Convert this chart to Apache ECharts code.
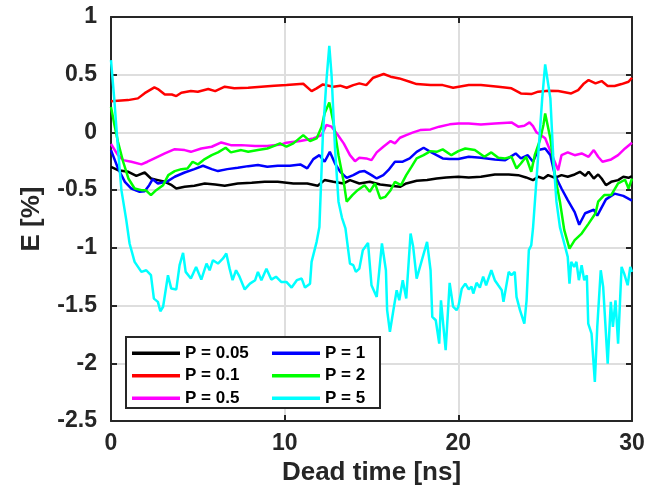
<!DOCTYPE html>
<html>
<head>
<meta charset="utf-8">
<script src="https://cdn.jsdelivr.net/npm/echarts@6/dist/echarts.min.js"></script>
<style>html,body{margin:0;padding:0;background:#fff}#c{width:653px;height:490px}</style>
</head>
<body>
<div id="c"></div>
<script>
var seriesNames = ['P = 0.05', 'P = 0.1', 'P = 0.5', 'P = 1', 'P = 2', 'P = 5'];
var seriesColors = ['#000000', '#ff0000', '#ff00ff', '#0000ff', '#00ff00', '#00ffff'];
var xTicks = [0, 10, 20, 30];
var yTicks = [-2.5, -2, -1.5, -1, -0.5, 0, 0.5, 1];

var tP005 = [0,0.4,1.0,1.46,1.94,2.3,2.7,3.1,3.5,3.76,4.24,4.8,5.4,6.0,6.55,7.3,8.1,8.85,9.6,10.5,11.3,11.9,12.3,12.8,13.4,13.76,14.3,14.9,15.5,16.1,16.64,17.0,17.6,18.2,18.75,19.3,20.0,20.6,21.3,22.1,22.9,23.45,23.9,24.3,24.6,24.9,25.17,25.56,25.94,26.3,26.7,27.0,27.3,27.5,27.8,28.05,28.25,28.5,28.8,29.2,29.5,29.8,30];
var vP005 = [-0.298,-0.327,-0.341,-0.376,-0.347,-0.399,-0.413,-0.428,-0.457,-0.486,-0.471,-0.462,-0.442,-0.451,-0.462,-0.442,-0.436,-0.428,-0.428,-0.442,-0.442,-0.462,-0.413,-0.428,-0.442,-0.413,-0.442,-0.428,-0.451,-0.462,-0.471,-0.442,-0.419,-0.413,-0.399,-0.390,-0.384,-0.390,-0.384,-0.364,-0.364,-0.370,-0.390,-0.413,-0.384,-0.399,-0.370,-0.393,-0.370,-0.384,-0.364,-0.341,-0.376,-0.341,-0.399,-0.364,-0.399,-0.457,-0.428,-0.413,-0.384,-0.393,-0.379];

var tP01 = [0,0.98,1.55,1.94,2.5,2.7,3.1,3.5,3.76,4.05,4.6,5.0,5.6,6.0,6.55,7.1,7.9,8.65,9.4,10.1,11.07,11.55,11.84,12.2,12.8,13.2,13.57,13.95,14.3,14.7,15.1,15.7,16.1,16.6,17.2,17.6,18.4,19.1,19.7,20.6,21.3,22.3,23.06,23.6,24.2,24.6,25.17,25.75,26.5,26.9,27.2,27.5,27.9,28.25,28.6,29.0,29.4,29.8,30];
var vP01 = [0.27,0.28,0.295,0.34,0.39,0.376,0.329,0.329,0.315,0.344,0.358,0.353,0.376,0.358,0.396,0.382,0.387,0.396,0.405,0.410,0.422,0.358,0.382,0.416,0.396,0.405,0.387,0.410,0.425,0.410,0.474,0.506,0.483,0.468,0.439,0.419,0.410,0.410,0.387,0.410,0.410,0.396,0.382,0.338,0.332,0.353,0.361,0.358,0.338,0.367,0.419,0.454,0.425,0.445,0.402,0.402,0.419,0.439,0.474];

var tP05 = [0,0.4,0.7,1.17,1.75,2.1,2.5,3.1,3.67,4.24,4.6,5.2,5.8,6.35,6.9,7.5,8.3,9.0,9.8,10.1,10.9,11.65,12.13,12.4,12.7,13.0,13.4,13.76,14.05,14.3,14.7,15.0,15.3,15.68,16.1,16.35,16.64,17.0,17.4,17.8,18.4,18.9,19.5,20.0,20.6,21.3,22.1,23.06,23.45,23.8,24.1,24.3,24.5,24.7,25.0,25.4,25.75,25.94,26.3,26.7,27.1,27.5,27.8,28.05,28.3,28.8,29.2,29.6,30];
var vP05 = [-0.10,-0.197,-0.240,-0.254,-0.277,-0.254,-0.225,-0.182,-0.145,-0.153,-0.168,-0.139,-0.124,-0.087,-0.110,-0.110,-0.118,-0.118,-0.104,-0.090,-0.075,-0.052,-0.023,0.064,0.050,-0.009,-0.095,-0.197,-0.249,-0.220,-0.225,-0.240,-0.173,-0.124,-0.075,-0.095,-0.046,-0.023,0.0,0.020,0.026,0.050,0.070,0.078,0.078,0.069,0.078,0.087,0.050,0.058,0.087,0.055,0.0,-0.017,-0.05,-0.2,-0.327,-0.197,-0.173,-0.197,-0.182,-0.211,-0.153,-0.211,-0.254,-0.234,-0.197,-0.139,-0.090];

var tP1 = [0,0.4,0.8,1.17,1.65,1.94,2.2,2.4,2.7,3.2,3.67,4.24,4.8,5.3,5.8,6.16,6.7,7.3,7.9,8.46,9.0,9.6,10.3,10.9,11.3,11.65,12.0,12.3,12.6,12.9,13.2,13.57,13.95,14.3,14.6,15.0,15.3,15.68,15.97,16.35,16.8,17.2,17.6,18.0,18.4,18.75,19.1,19.5,20.0,20.6,21.3,22.1,22.7,23.3,23.6,24.0,24.3,24.6,25.0,25.3,25.56,25.94,26.3,26.7,26.96,27.3,27.8,28.0,28.5,29.0,29.5,30];
var vP1 = [-0.153,-0.310,-0.428,-0.486,-0.514,-0.509,-0.457,-0.405,-0.442,-0.428,-0.384,-0.347,-0.318,-0.289,-0.318,-0.335,-0.318,-0.306,-0.292,-0.283,-0.298,-0.289,-0.289,-0.277,-0.312,-0.231,-0.197,-0.254,-0.168,-0.269,-0.341,-0.393,-0.370,-0.341,-0.335,-0.370,-0.399,-0.370,-0.327,-0.254,-0.254,-0.225,-0.168,-0.133,-0.168,-0.197,-0.225,-0.231,-0.231,-0.211,-0.220,-0.234,-0.240,-0.182,-0.225,-0.197,-0.254,-0.153,-0.139,-0.197,-0.370,-0.486,-0.587,-0.69,-0.80,-0.70,-0.67,-0.72,-0.58,-0.53,-0.55,-0.59];

var tP2 = [0,0.2,0.4,0.7,1.0,1.36,1.75,2.0,2.3,2.6,3.0,3.3,3.67,4.05,4.4,4.7,5.0,5.4,5.8,6.16,6.6,6.9,7.5,7.9,8.46,9.0,9.4,9.73,10.1,10.5,11.07,11.46,11.84,12.13,12.3,12.57,12.8,13.1,13.4,13.57,13.9,14.2,14.6,14.9,15.2,15.5,15.8,16.1,16.35,16.7,17.0,17.3,17.6,18.0,18.4,18.75,19.1,19.6,20.0,20.4,20.95,21.5,21.9,22.3,22.7,23.06,23.35,23.6,23.9,24.2,24.4,24.7,24.9,25.0,25.3,25.56,25.85,26.1,26.4,26.7,27.1,27.5,27.9,28.05,28.4,28.8,29.2,29.6,29.8,30];
var vP2 = [0.22,0.064,-0.081,-0.254,-0.399,-0.486,-0.500,-0.500,-0.543,-0.500,-0.457,-0.370,-0.335,-0.318,-0.312,-0.254,-0.277,-0.231,-0.197,-0.173,-0.133,-0.173,-0.153,-0.168,-0.153,-0.139,-0.116,-0.095,-0.124,-0.095,-0.023,-0.075,-0.052,0.050,0.165,0.260,0.092,-0.197,-0.428,-0.600,-0.543,-0.500,-0.457,-0.514,-0.442,-0.572,-0.558,-0.500,-0.428,-0.457,-0.370,-0.298,-0.225,-0.197,-0.162,-0.168,-0.147,-0.197,-0.162,-0.139,-0.153,-0.211,-0.173,-0.220,-0.225,-0.211,-0.312,-0.269,-0.211,-0.341,-0.197,-0.066,0.064,0.165,-0.052,-0.370,-0.600,-0.847,-1.006,-0.933,-0.876,-0.790,-0.700,-0.600,-0.543,-0.543,-0.442,-0.410,-0.486,-0.400];

var tP5 = [0,0.2,0.4,0.6,0.88,1.07,1.36,1.75,2.03,2.3,2.47,2.7,2.84,3.0,3.28,3.47,3.76,3.95,4.15,4.3,4.6,4.9,5.2,5.5,5.68,5.87,6.16,6.45,6.64,6.83,7.0,7.2,7.4,7.7,8.0,8.3,8.46,8.66,8.95,9.23,9.5,9.8,10.1,10.4,10.7,10.98,11.17,11.46,11.55,11.84,12.0,12.2,12.4,12.57,12.7,12.9,13.1,13.3,13.5,13.66,13.76,13.95,14.1,14.3,14.5,14.8,15.0,15.3,15.6,15.83,15.9,16.06,16.26,16.45,16.6,16.8,17.0,17.25,17.4,17.6,17.9,18.2,18.4,18.5,18.7,18.9,19.0,19.27,19.5,19.7,19.9,20.0,20.2,20.4,20.6,20.76,20.86,21.05,21.24,21.43,21.6,21.9,22.1,22.3,22.5,22.6,22.9,23.06,23.25,23.35,23.55,23.8,23.93,24.06,24.2,24.3,24.6,24.83,25.0,25.1,25.3,25.46,25.65,25.85,26.1,26.3,26.4,26.5,26.67,26.8,26.94,27.1,27.25,27.4,27.48,27.67,27.86,28.0,28.2,28.34,28.6,28.78,28.9,29.05,29.2,29.4,29.55,29.75,29.9,30];
var vP5 = [0.627,0.266,-0.139,-0.50,-0.76,-0.962,-1.121,-1.208,-1.194,-1.237,-1.44,-1.468,-1.549,-1.51,-1.237,-1.353,-1.36,-1.15,-1.043,-1.208,-1.266,-1.165,-1.275,-1.136,-1.194,-1.107,-1.136,-1.092,-1.049,-1.18,-1.28,-1.194,-1.25,-1.36,-1.31,-1.28,-1.208,-1.28,-1.18,-1.275,-1.25,-1.295,-1.295,-1.344,-1.28,-1.266,-1.344,-1.31,-1.121,-0.948,-0.82,-0.023,0.44,0.75,0.497,-0.139,-0.60,-0.74,-0.832,-1.02,-1.136,-1.15,-1.208,-1.18,-1.02,-0.957,-1.324,-1.425,-0.962,-1.194,-1.54,-1.728,-1.54,-1.367,-1.454,-1.28,-1.439,-0.876,-0.991,-1.266,-1.107,-0.948,-1.194,-1.598,-1.627,-1.83,-1.454,-1.887,-1.303,-1.51,-1.54,-1.51,-1.353,-1.31,-1.36,-1.335,-1.396,-1.303,-1.344,-1.25,-1.324,-1.194,-1.28,-1.324,-1.367,-1.468,-1.208,-1.237,-1.208,-1.425,-1.54,-1.656,-1.454,-1.02,-0.977,-0.83,-0.197,0.295,0.59,0.598,0.295,-0.197,-0.60,-0.82,-0.962,-1.078,-1.31,-1.121,-1.165,-1.121,-1.28,-1.15,-1.28,-1.237,-1.656,-1.743,-2.162,-1.685,-1.194,-1.338,-2.003,-1.468,-1.685,-1.454,-1.83,-1.165,-1.223,-1.324,-1.165,-1.208];

var allT = [tP005, tP01, tP05, tP1, tP2, tP5];
var allV = [vP005, vP01, vP05, vP1, vP2, vP5];

function zip(t, v) { var out = []; for (var i = 0; i < t.length; i++) out.push([t[i], v[i]]); return out; }

var FONT = '"Liberation Sans", Arial, Helvetica, sans-serif';
var DARK = '#262626';

var series = seriesNames.map(function (n, i) {
  return {
    name: n, type: 'line', data: zip(allT[i], allV[i]),
    symbol: 'none', showSymbol: false, smooth: false,
    lineStyle: { color: seriesColors[i], width: 2.5 },
    itemStyle: { color: seriesColors[i] },
    xAxisIndex: 0, yAxisIndex: 0, z: 2 + i * 0.01
  };
});

var chart = echarts.init(document.getElementById('c'), null, { renderer: 'canvas' });
var legendCommon = {
  orient: 'vertical', icon: 'rect', itemWidth: 48, itemHeight: 3.5, itemGap: 5.5, padding: 0,
  selectedMode: false, z: 5,
  textStyle: { fontSize: 17, fontWeight: 'bold', color: '#000', fontFamily: FONT, lineHeight: 16 }
};
chart.setOption({
  animation: false,
  backgroundColor: '#ffffff',
  grid: { left: 111, right: 21, top: 17, bottom: 69, containLabel: false, outerBoundsMode: 'none' },
  xAxis: [{
    type: 'value', min: xTicks[0], max: xTicks[xTicks.length - 1], interval: 10, position: 'bottom',
    name: 'Dead time [ns]', nameLocation: 'middle', nameGap: 39,
    nameTextStyle: { fontSize: 26, fontWeight: 'bold', color: DARK, fontFamily: FONT },
    axisLine: { show: true, onZero: false, lineStyle: { color: DARK, width: 2 } },
    axisTick: { show: true, inside: true, length: 6, lineStyle: { color: DARK, width: 2 } },
    axisLabel: { fontSize: 23, fontWeight: 'bold', color: DARK, fontFamily: FONT, margin: 11 },
    splitLine: { show: true, lineStyle: { color: '#dedede', width: 2 } }
  }, {
    type: 'value', min: 0, max: 30, interval: 10, position: 'top',
    axisLine: { show: true, onZero: false, lineStyle: { color: DARK, width: 2 } },
    axisTick: { show: true, inside: true, length: 6, lineStyle: { color: DARK, width: 2 } },
    axisLabel: { show: false }, splitLine: { show: false }
  }],
  yAxis: [{
    type: 'value', min: yTicks[0], max: yTicks[yTicks.length - 1], interval: 0.5, position: 'left',
    name: 'E [%]', nameLocation: 'middle', nameGap: 66, nameRotate: 90,
    nameTextStyle: { fontSize: 26, fontWeight: 'bold', color: DARK, fontFamily: FONT },
    axisLine: { show: true, onZero: false, lineStyle: { color: DARK, width: 2 } },
    axisTick: { show: true, inside: true, length: 6, lineStyle: { color: DARK, width: 2 } },
    axisLabel: { fontSize: 23, fontWeight: 'bold', color: DARK, fontFamily: FONT, margin: 14 },
    splitLine: { show: true, lineStyle: { color: '#dedede', width: 2 } }
  }, {
    type: 'value', min: -2.5, max: 1, interval: 0.5, position: 'right',
    axisLine: { show: true, onZero: false, lineStyle: { color: DARK, width: 2 } },
    axisTick: { show: true, inside: true, length: 6, lineStyle: { color: DARK, width: 2 } },
    axisLabel: { show: false }, splitLine: { show: false }
  }],
  legend: [
    Object.assign({}, legendCommon, { data: seriesNames.slice(0, 3), left: 132, top: 344.7 }),
    Object.assign({}, legendCommon, { data: seriesNames.slice(3, 6), left: 272, top: 344.7 })
  ],
  graphic: [{
    type: 'rect', z: 4, silent: true,
    shape: { x: 126, y: 337, width: 254, height: 71 },
    style: { fill: '#ffffff', stroke: DARK, lineWidth: 2 }
  }],
  series: series
});
</script>
</body>
</html>
